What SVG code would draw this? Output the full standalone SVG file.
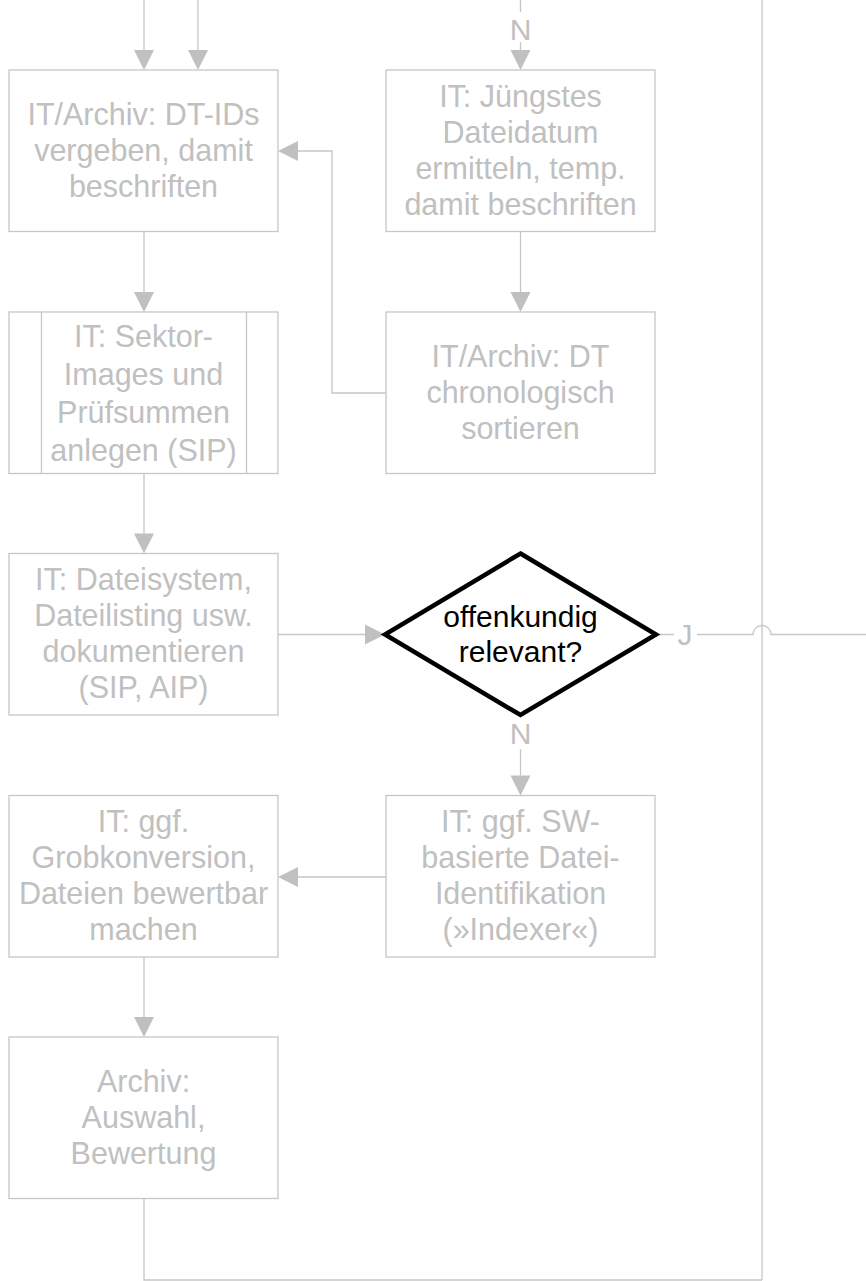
<svg xmlns="http://www.w3.org/2000/svg" width="866" height="1281" viewBox="0 0 866 1281">
<defs>
<style>
.box{fill:#fff;stroke:#c6c6c6;stroke-width:1.3}
.t{font-family:"Liberation Sans",Arial,sans-serif;font-size:30.5px;fill:#c0c0c0;text-anchor:middle}
.dt{font-family:"Liberation Sans",Arial,sans-serif;font-size:30px;fill:#000;text-anchor:middle}
.ln{fill:none;stroke:#c6c6c6;stroke-width:1.3}
.ah{fill:#c0c0c0}
.lbl{font-family:"Liberation Sans",Arial,sans-serif;font-size:30px;fill:#c0c0c0;text-anchor:middle}
</style>
</defs>
<rect width="866" height="1281" fill="#fff"/>
<g id="connectors">
<path class="ln" d="M144,0 V50"/>
<polygon class="ah" points="134,50 154,50 144,70"/>
<path class="ln" d="M198,0 V50"/>
<polygon class="ah" points="188,50 208,50 198,70"/>
<path class="ln" d="M520.5,0 V12 M520.5,42 V50"/>
<polygon class="ah" points="510.5,50 530.5,50 520.5,70"/>
<text class="lbl" x="520.5" y="40">N</text>
<path class="ln" d="M762,0 V1280"/>
<path class="ln" d="M144,231.5 V292"/>
<polygon class="ah" points="134,292 154,292 144,312"/>
<path class="ln" d="M520.5,231.5 V292"/>
<polygon class="ah" points="510.5,292 530.5,292 520.5,312"/>
<path class="ln" d="M386,393 H332 V151 H298"/>
<polygon class="ah" points="298,141 298,161 278,151"/>
<path class="ln" d="M144,473.5 V533.5"/>
<polygon class="ah" points="134,533.5 154,533.5 144,553.5"/>
<path class="ln" d="M278,634.5 H365"/>
<polygon class="ah" points="365,624.5 365,644.5 385,634.5"/>
<path class="ln" d="M656,634.5 H674 M697,634.5 H753 A9,9 0 0 1 771,634.5 H866"/>
<text class="lbl" x="685" y="645">J</text>
<path class="ln" d="M520.5,749 V775.5"/>
<polygon class="ah" points="510.5,775.5 530.5,775.5 520.5,795.5"/>
<text class="lbl" x="520.5" y="744">N</text>
<path class="ln" d="M386,877 H298"/>
<polygon class="ah" points="298,867 298,887 278,877"/>
<path class="ln" d="M144,957 V1017"/>
<polygon class="ah" points="134,1017 154,1017 144,1037"/>
<path class="ln" d="M144,1198.5 V1280 H762"/>
</g>
<g id="box1">
<rect class="box" x="9" y="70" width="269" height="161.5"/>
<text class="t"><tspan x="143.5" y="125">IT/Archiv: DT-IDs</tspan><tspan x="143.5" y="161">vergeben, damit</tspan><tspan x="143.5" y="197">beschriften</tspan></text>
</g>
<g id="box2">
<rect class="box" x="386" y="70" width="269" height="161.5"/>
<text class="t"><tspan x="520.5" y="107">IT: Jüngstes</tspan><tspan x="520.5" y="143">Dateidatum</tspan><tspan x="520.5" y="179">ermitteln, temp.</tspan><tspan x="520.5" y="215">damit beschriften</tspan></text>
</g>
<g id="box3">
<rect class="box" x="9" y="312" width="269" height="161.5"/>
<path class="ln" d="M41.5,312 V473.5 M246.5,312 V473.5"/>
<text class="t"><tspan x="143.5" y="347">IT: Sektor-</tspan><tspan x="143.5" y="385">Images und</tspan><tspan x="143.5" y="423">Prüfsummen</tspan><tspan x="143.5" y="461">anlegen (SIP)</tspan></text>
</g>
<g id="box4">
<rect class="box" x="386" y="312" width="269" height="161.5"/>
<text class="t"><tspan x="520.5" y="367">IT/Archiv: DT</tspan><tspan x="520.5" y="403">chronologisch</tspan><tspan x="520.5" y="439">sortieren</tspan></text>
</g>
<g id="box5">
<rect class="box" x="9" y="553.5" width="269" height="161.5"/>
<text class="t"><tspan x="143.5" y="590">IT: Dateisystem,</tspan><tspan x="143.5" y="626">Dateilisting usw.</tspan><tspan x="143.5" y="662">dokumentieren</tspan><tspan x="143.5" y="698">(SIP, AIP)</tspan></text>
</g>
<g id="diamond">
<polygon points="520.5,553.5 656,634.5 520.5,715 385,634.5" fill="#fff" stroke="#000" stroke-width="4.5" stroke-linejoin="miter"/>
<text class="dt"><tspan x="520.5" y="627">offenkundig</tspan><tspan x="520.5" y="662">relevant?</tspan></text>
</g>
<g id="box6">
<rect class="box" x="386" y="795.5" width="269" height="161.5"/>
<text class="t"><tspan x="520.5" y="832">IT: ggf. SW-</tspan><tspan x="520.5" y="868">basierte Datei-</tspan><tspan x="520.5" y="904">Identifikation</tspan><tspan x="520.5" y="940">(»Indexer«)</tspan></text>
</g>
<g id="box7">
<rect class="box" x="9" y="795.5" width="269" height="161.5"/>
<text class="t"><tspan x="143.5" y="832">IT: ggf.</tspan><tspan x="143.5" y="868">Grobkonversion,</tspan><tspan x="143.5" y="904">Dateien bewertbar</tspan><tspan x="143.5" y="940">machen</tspan></text>
</g>
<g id="box8">
<rect class="box" x="9" y="1037" width="269" height="161.5"/>
<text class="t"><tspan x="143.5" y="1092">Archiv:</tspan><tspan x="143.5" y="1128">Auswahl,</tspan><tspan x="143.5" y="1164">Bewertung</tspan></text>
</g>
</svg>
